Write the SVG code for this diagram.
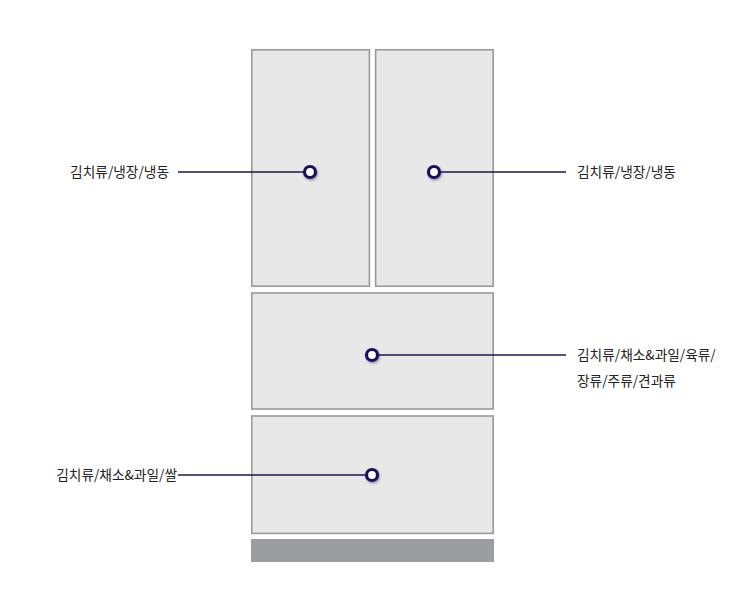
<svg xmlns="http://www.w3.org/2000/svg" width="741" height="599" viewBox="0 0 741 599">
<style>
.box{fill:#e8e8e8;stroke:#9a9a9c;stroke-width:1.6}
.base{fill:#9c9da1}
.lbl{font-family:"Noto Sans CJK KR","Noto Sans",sans-serif;font-size:13.7px;fill:#222}
.ln{stroke:#1c1450;stroke-width:1.6;fill:none}
.dot{fill:#fff;stroke:#1e1060;stroke-width:3.2}
</style>
<defs>
<filter id="sh" x="-50%" y="-50%" width="200%" height="200%">
<feDropShadow dx="1" dy="1.5" stdDeviation="1" flood-color="#000" flood-opacity="0.35"/>
</filter>
</defs>
<rect width="741" height="599" fill="#fff"/>
<g id="door-left"><rect class="box" x="251.8" y="49.8" width="117.6" height="236.4"/></g>
<g id="door-right"><rect class="box" x="375.6" y="49.8" width="117.6" height="236.4"/></g>
<g id="drawer-middle"><rect class="box" x="251.8" y="293" width="241.4" height="116"/></g>
<g id="drawer-bottom"><rect class="box" x="251.8" y="416" width="241.4" height="117.4"/></g>
<g id="base"><rect class="base" x="251" y="539" width="243" height="23"/></g>
<g id="connectors">
<line class="ln" x1="178" y1="172" x2="305" y2="172"/>
<line class="ln" x1="439" y1="172" x2="566" y2="172"/>
<line class="ln" x1="377" y1="355" x2="566" y2="355"/>
<line class="ln" x1="178" y1="475" x2="367" y2="475"/>
</g>
<g id="dots" filter="url(#sh)">
<circle class="dot" cx="310" cy="172" r="5.5"/>
<circle class="dot" cx="434" cy="172" r="5.5"/>
<circle class="dot" cx="372" cy="355" r="5.5"/>
<circle class="dot" cx="372" cy="475" r="5.5"/>
</g>
<g id="label-left"><text class="lbl" x="169" y="177" text-anchor="end">김치류/냉장/냉동</text></g>
<g id="label-right"><text class="lbl" x="577" y="177">김치류/냉장/냉동</text></g>
<g id="label-middle"><text class="lbl" x="577" y="360">김치류/채소&amp;과일/육류/</text><text class="lbl" x="577" y="386">장류/주류/견과류</text></g>
<g id="label-bottom"><text class="lbl" x="177" y="480" text-anchor="end">김치류/채소&amp;과일/쌀</text></g>
</svg>
